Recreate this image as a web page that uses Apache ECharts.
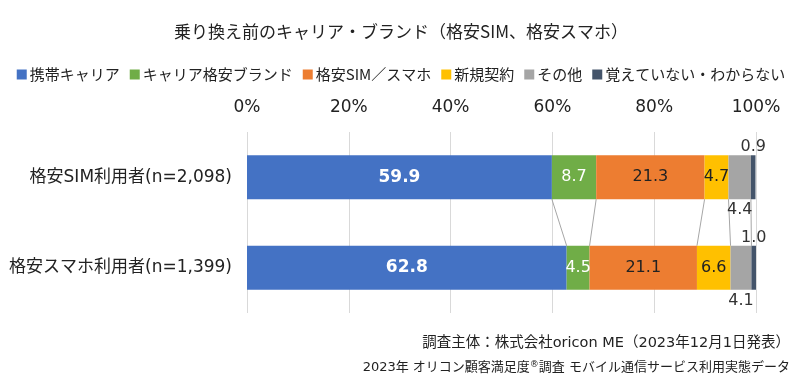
<!DOCTYPE html>
<html><head><meta charset="utf-8">
<script src="https://cdn.jsdelivr.net/npm/echarts@6/dist/echarts.min.js"></script>
<style>html,body{margin:0;padding:0;background:#fff}#c{width:802px;height:379px}</style>
</head><body><div id="c"></div>
<script>
const categories = ['格安SIM利用者(n=2,098)', '格安スマホ利用者(n=1,399)'];
const seriesNames = ['携帯キャリア', 'キャリア格安ブランド', '格安SIM／スマホ', '新規契約', 'その他', '覚えていない・わからない'];
const carrier = [59.9, 62.8];
const carrierBrand = [8.7, 4.5];
const mvno = [21.3, 21.1];
const newContract = [4.7, 6.6];
const other = [4.4, 4.1];
const unknown = [0.9, 1.0];
const tickValues = [0, 20, 40, 60, 80, 100];
const colors = ['#4472C4', '#70AD47', '#ED7D31', '#FFC000', '#A5A5A5', '#44546A'];

const allData = [carrier, carrierBrand, mvno, newContract, other, unknown];
const FONT = '"DejaVu Sans", "Noto Sans CJK JP", sans-serif';
const CJK = '"Noto Sans CJK JP", sans-serif';

const labelCfg = [
  {show: true, position: 'inside', color: '#fff', fontSize: 17, fontWeight: 'bold'},
  {show: true, position: 'inside', color: '#fff', fontSize: 16},
  {show: true, position: 'inside', color: '#222', fontSize: 16},
  {show: true, position: 'inside', color: '#222', fontSize: 16},
  {show: true, position: 'bottom', color: '#333', fontSize: 16, distance: 3},
  {show: true, position: 'top', color: '#333', fontSize: 16, distance: 0}
];

const barSeries = seriesNames.map((n, i) => ({
  name: n, type: 'bar', stack: 'total', barWidth: 44,
  itemStyle: {color: colors[i]},
  label: Object.assign({fontFamily: FONT, formatter: p => p.value.toFixed(1)}, labelCfg[i]),
  data: allData[i]
}));

// cumulative boundaries for connector lines
const boundaries = [];
for (let k = 1; k < allData.length; k++) {
  const row = [];
  for (let c = 0; c < categories.length; c++) {
    let s = 0;
    for (let j = 0; j < k; j++) s += allData[j][c];
    row.push(s);
  }
  boundaries.push(row);
}

const connector = {
  type: 'custom', silent: true, z: 1,
  renderItem: function (params, api) {
    const b = boundaries[params.dataIndex];
    const bw = 44;
    const p1 = api.coord([b[0], 0]);
    const p2 = api.coord([b[1], 1]);
    return {
      type: 'line',
      shape: {x1: p1[0], y1: p1[1] + bw / 2, x2: p2[0], y2: p2[1] - bw / 2},
      style: {stroke: '#A6A6A6', lineWidth: 1}
    };
  },
  data: boundaries.map(b => [b[0], 0]),
  encode: {x: 0, y: 1}
};

const chart = echarts.init(document.getElementById('c'));
chart.setOption({
  animation: false,
  textStyle: {fontFamily: FONT},
  title: {
    text: '乗り換え前のキャリア・ブランド（格安SIM、格安スマホ）',
    left: 'center', top: 18,
    textStyle: {fontFamily: CJK, fontSize: 17, fontWeight: 'normal', color: '#222'}
  },
  legend: {
    top: 62, left: 'center', itemWidth: 10, itemHeight: 10, itemGap: 10,
    icon: 'rect',
    textStyle: {fontFamily: CJK, fontSize: 15, color: '#222', padding: [0, 0, 0, -2]},
    data: seriesNames
  },
  grid: {left: 247, right: 46, top: 132, bottom: 66},
  xAxis: {
    type: 'value', position: 'top', min: 0, max: 100, interval: 20,
    axisLine: {show: false}, axisTick: {show: false},
    axisLabel: {formatter: '{value}%', fontSize: 17, color: '#222', margin: 16, fontFamily: FONT},
    splitLine: {lineStyle: {color: '#D9D9D9'}}
  },
  yAxis: {
    type: 'category', inverse: true, data: categories,
    axisLine: {show: false}, axisTick: {show: false},
    axisLabel: {fontSize: 17, color: '#222', margin: 15, fontFamily: FONT}
  },
  series: [connector].concat(barSeries),
  graphic: [
    {type: 'text', right: 12, top: 336, style: {text: '調査主体：株式会社oricon ME（2023年12月1日発表）', font: '14.5px ' + FONT, fill: '#222', textAlign: 'right'}},
    {type: 'text', right: 12, top: 360, style: {
      text: '2023年 オリコン顧客満足度{s|®}調査 モバイル通信サービス利用実態データ',
      font: '13px ' + FONT, fill: '#222', textAlign: 'right',
      rich: {s: {fontSize: 9, verticalAlign: 'top', padding: [0, 0, 7, 0], fontFamily: FONT, fill: '#222'}}
    }}
  ]
});
</script></body></html>
